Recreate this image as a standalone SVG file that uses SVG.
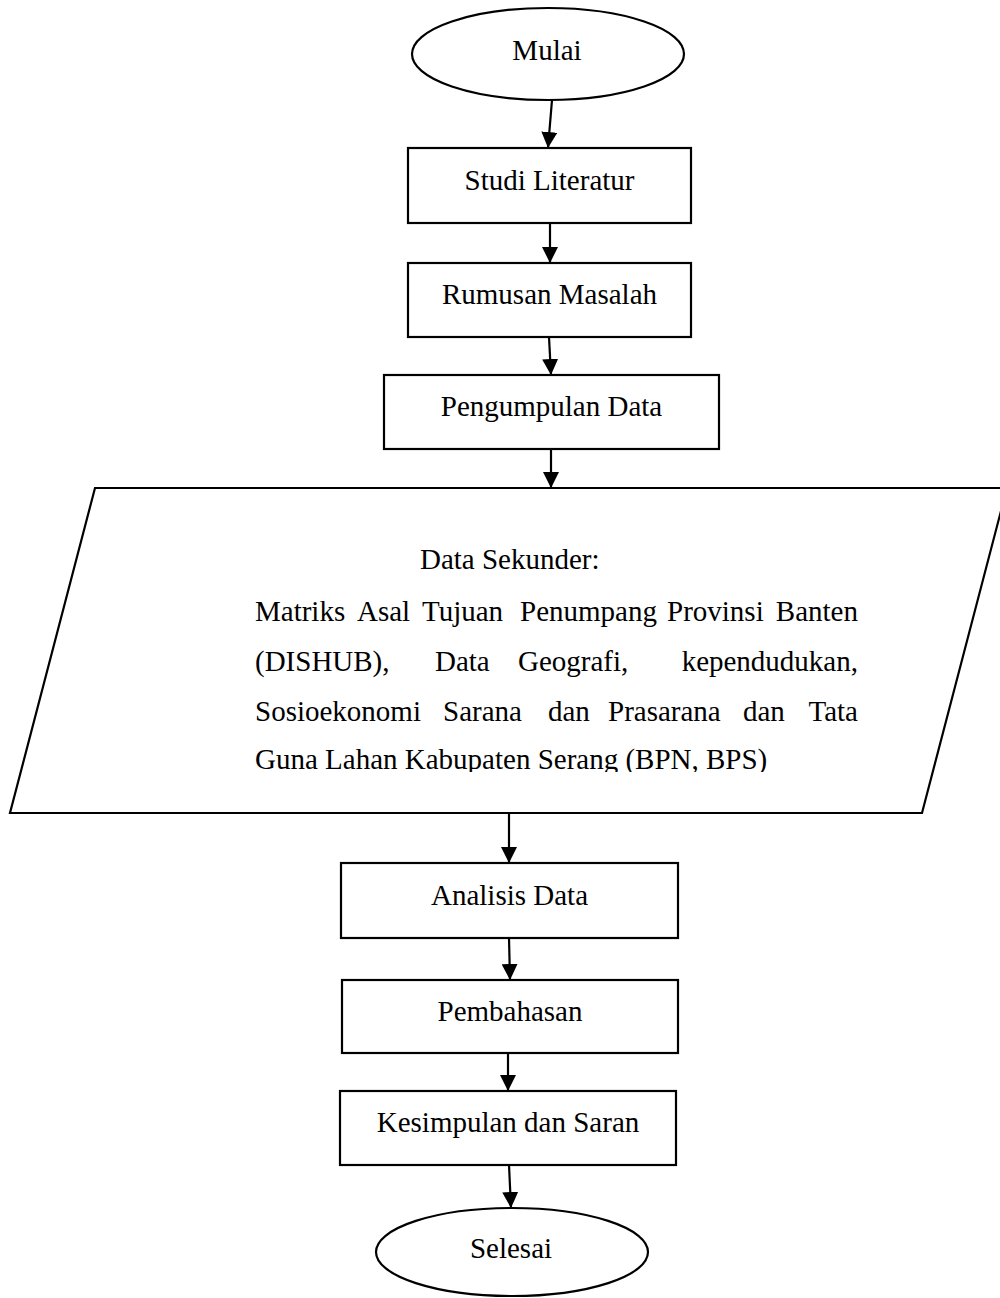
<svg xmlns="http://www.w3.org/2000/svg" width="1000" height="1298" viewBox="0 0 1000 1298">
<style>
.shape{fill:#fff;stroke:#000;stroke-width:2.2}
.lbl{font-family:"Liberation Serif","Times New Roman",serif;font-size:29px;fill:#000}
.mid{text-anchor:middle}
.end{text-anchor:end}
.conn{stroke:#000;stroke-width:2.2;fill:none;marker-end:url(#arrow)}
</style>
<defs>
<marker id="arrow" markerUnits="userSpaceOnUse" markerWidth="16" markerHeight="16" viewBox="0 0 15 15" refX="15" refY="7.5" orient="auto">
<path d="M0,0 L15,7.5 L0,15 z" fill="#000"/>
</marker>
<clipPath id="clipText"><rect x="200" y="520" width="700" height="252"/></clipPath>
</defs>
<rect width="1000" height="1298" fill="#fff"/>
<g id="connectors">
<line class="conn" x1="552" y1="100" x2="548" y2="148"/>
<line class="conn" x1="550" y1="223" x2="550" y2="263"/>
<line class="conn" x1="549" y1="337" x2="551" y2="375"/>
<line class="conn" x1="551" y1="449" x2="551" y2="488"/>
<line class="conn" x1="509" y1="813" x2="509" y2="863"/>
<line class="conn" x1="509" y1="938" x2="510" y2="980"/>
<line class="conn" x1="508" y1="1053" x2="508" y2="1091"/>
<line class="conn" x1="509" y1="1165" x2="511" y2="1208"/>
</g>
<g id="mulai">
<ellipse class="shape" cx="548" cy="54" rx="136" ry="46"/>
<text class="lbl mid" x="547" y="60">Mulai</text>
</g>
<g id="studi-literatur">
<rect class="shape" x="408" y="148" width="283" height="75"/>
<text class="lbl mid" x="549.5" y="190">Studi Literatur</text>
</g>
<g id="rumusan-masalah">
<rect class="shape" x="408" y="263" width="283" height="74"/>
<text class="lbl mid" x="549.5" y="304">Rumusan Masalah</text>
</g>
<g id="pengumpulan-data">
<rect class="shape" x="384" y="375" width="335" height="74"/>
<text class="lbl mid" x="551.5" y="416">Pengumpulan Data</text>
</g>
<g id="data-sekunder">
<polygon class="shape" points="95,488 1007,488 922,813 10,813"/>
<g clip-path="url(#clipText)">
<text class="lbl" x="420" y="569">Data Sekunder:</text>
<text class="lbl" y="621"><tspan x="255">Matriks</tspan><tspan x="357">Asal</tspan><tspan x="422">Tujuan</tspan><tspan x="520">Penumpang</tspan><tspan x="667">Provinsi</tspan></text>
<text class="lbl end" x="858" y="621">Banten</text>
<text class="lbl" y="671"><tspan x="255">(DISHUB),</tspan><tspan x="435">Data</tspan><tspan x="518">Geografi,</tspan></text>
<text class="lbl end" x="858" y="671">kependudukan,</text>
<text class="lbl" y="721"><tspan x="255">Sosioekonomi</tspan><tspan x="443">Sarana</tspan><tspan x="548">dan</tspan><tspan x="608">Prasarana</tspan><tspan x="743">dan</tspan></text>
<text class="lbl end" x="858" y="721">Tata</text>
<text class="lbl" x="255" y="769">Guna Lahan Kabupaten Serang (BPN, BPS)</text>
</g>
</g>
<g id="analisis-data">
<rect class="shape" x="341" y="863" width="337" height="75"/>
<text class="lbl mid" x="509.5" y="905">Analisis Data</text>
</g>
<g id="pembahasan">
<rect class="shape" x="342" y="980" width="336" height="73"/>
<text class="lbl mid" x="510" y="1021">Pembahasan</text>
</g>
<g id="kesimpulan">
<rect class="shape" x="340" y="1091" width="336" height="74"/>
<text class="lbl mid" x="508" y="1132">Kesimpulan dan Saran</text>
</g>
<g id="selesai">
<ellipse class="shape" cx="512" cy="1252" rx="136" ry="44"/>
<text class="lbl mid" x="511" y="1258">Selesai</text>
</g>
</svg>
